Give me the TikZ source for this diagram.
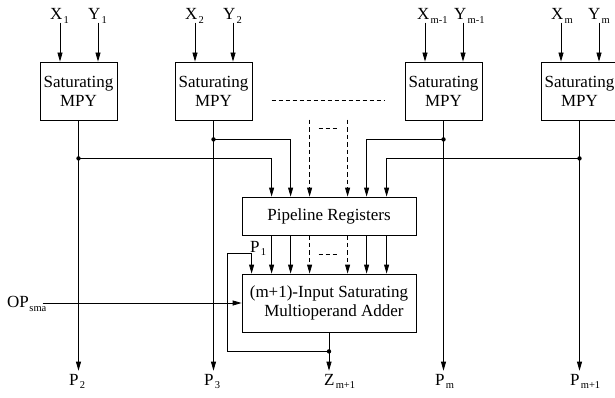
\documentclass[tikz,border=0pt]{standalone}
\usepackage{fontspec}
\setmainfont{Liberation Serif}
\usetikzlibrary{arrows.meta,calc}
\newcommand\lsub[1]{\kern1.2pt\raisebox{-3.5pt}{\fontsize{10.5}{11}\selectfont #1}}
\begin{document}
\begin{tikzpicture}[x=1pt,y=-1pt,
  every node/.style={font=\fontsize{17}{19}\selectfont},
  box/.style={draw, line width=0.8pt, inner sep=0pt, align=center},
  mpybox/.style={box, minimum width=77pt, minimum height=58pt},
  wire/.style={line width=0.8pt},
  arr/.style={wire, -{Triangle[length=9pt,width=5pt]}},
  dwire/.style={wire, dash pattern=on 4pt off 3pt},
  darr/.style={arr, dash pattern=on 4.5pt off 3pt},
  lbl/.style={inner sep=0pt, anchor=base west}]
\useasboundingbox (0,0) rectangle (615,398);

% multipliers
\node[mpybox] (mpy1) at (78.5,91) {Saturating\\MPY};
\node[mpybox] (mpy2) at (213.5,91) {Saturating\\MPY};
\node[mpybox] (mpy3) at (443.5,91) {Saturating\\MPY};
\node[mpybox] (mpy4) at (579.5,91) {Saturating\\MPY};

% pipeline and adder
\node[box, minimum width=174pt, minimum height=38pt] (pipe) at (329,216) {Pipeline Registers};
\node[box, minimum width=174pt, minimum height=58pt,
      font=\fontsize{17}{18.5}\selectfont] (adder) at (329,303)
      {(m+1)-Input Saturating\\\hspace*{10pt}Multioperand Adder};

% input labels
\node[lbl] (x1) at (50,20) {X\lsub{1}};
\node[lbl] (y1) at (88,20) {Y\lsub{1}};
\node[lbl] (x2) at (185,20) {X\lsub{2}};
\node[lbl] (y2) at (223,20) {Y\lsub{2}};
\node[lbl] (x3) at (417,20) {X\lsub{m-1}};
\node[lbl] (y3) at (454,20) {Y\lsub{m-1}};
\node[lbl] (x4) at (551,20) {X\lsub{m}};
\node[lbl] (y4) at (588,20) {Y\lsub{m}};

% output labels
\node[lbl] (p2) at (69,385) {P\lsub{2}};
\node[lbl] (p3) at (204,385) {P\lsub{3}};
\node[lbl] (pm) at (435,385) {P\lsub{m}};
\node[lbl] (pm1) at (570,385) {P\lsub{m+1}};
\node[lbl] (z) at (324,385) {Z\lsub{m+1}};
\node[lbl] (p1) at (250,252) {P\lsub{1}};
\node[lbl] (op) at (7,307) {OP\kern0.5pt\raisebox{-4pt}{\fontsize{10.5}{11}\selectfont sma}};

% input arrows
\foreach \b in {mpy1,mpy2,mpy3,mpy4}{
  \draw[arr] ($(\b.north)+(-18.5,-39)$) -- ($(\b.north)+(-18.5,0)$);
  \draw[arr] ($(\b.north)+(19.5,-39)$) -- ($(\b.north)+(19.5,0)$);
}

% junctions
\coordinate (d1) at ($(mpy1.south)+(0,38)$);
\coordinate (d2) at ($(mpy2.south)+(0,19)$);
\coordinate (d3) at ($(mpy3.south)+(0,19)$);
\coordinate (d4) at ($(mpy4.south)+(0,38)$);

% outputs
\draw[arr] (mpy1.south) -- ($(mpy1.south |- p2.north)+(0,-3)$);
\draw[arr] (mpy2.south) -- ($(mpy2.south |- p3.north)+(0,-3)$);
\draw[arr] (mpy3.south) -- ($(mpy3.south |- pm.north)+(0,-3)$);
\draw[arr] (mpy4.south) -- ($(mpy4.south |- pm1.north)+(0,-3)$);

% to pipeline
\draw[arr] (d1) -| ($(pipe.north west)+(30,0)$);
\draw[arr] (d2) -| ($(pipe.north west)+(49,0)$);
\draw[arr] (d3) -| ($(pipe.north west)+(125,0)$);
\draw[arr] (d4) -| ($(pipe.north west)+(145,0)$);
\draw[darr] ($(pipe.north west)+(68,-77)$) -- ($(pipe.north west)+(68,0)$);
\draw[darr] ($(pipe.north west)+(106,-77)$) -- ($(pipe.north west)+(106,0)$);
\draw[dwire] ($(pipe.north west)+(77,-68)$) -- ($(pipe.north west)+(97,-68)$);
\draw[dwire] ($(pipe.north west)+(30,-96)$) -- ($(pipe.north west)+(143,-96)$);

% pipeline to adder
\foreach \o in {30,49,125,145}
  \draw[arr] ($(pipe.south west)+(\o,0)$) -- ($(adder.north west)+(\o,0)$);
\foreach \o in {68,106}
  \draw[darr] ($(pipe.south west)+(\o,0)$) -- ($(adder.north west)+(\o,0)$);
\draw[dwire] ($(pipe.south west)+(77,19)$) -- ($(pipe.south west)+(97,19)$);

% adder output and feedback
\coordinate (dz) at ($(adder.south)+(0,19)$);
\draw[arr] (adder.south) -- ($(adder.south |- z.north)+(0,-3)$);
\draw[arr] (dz) -| ($(adder.north west)+(-14,-20)$) -| ($(adder.north west)+(10,0)$);

% OP input
\draw[arr] ($(op.east |- adder.west)+(-4,0)$) -- (adder.west);

% dots
\foreach \d in {d1,d2,d3,d4,dz} \fill (\d) circle (2.2pt);
\end{tikzpicture}
\end{document}
